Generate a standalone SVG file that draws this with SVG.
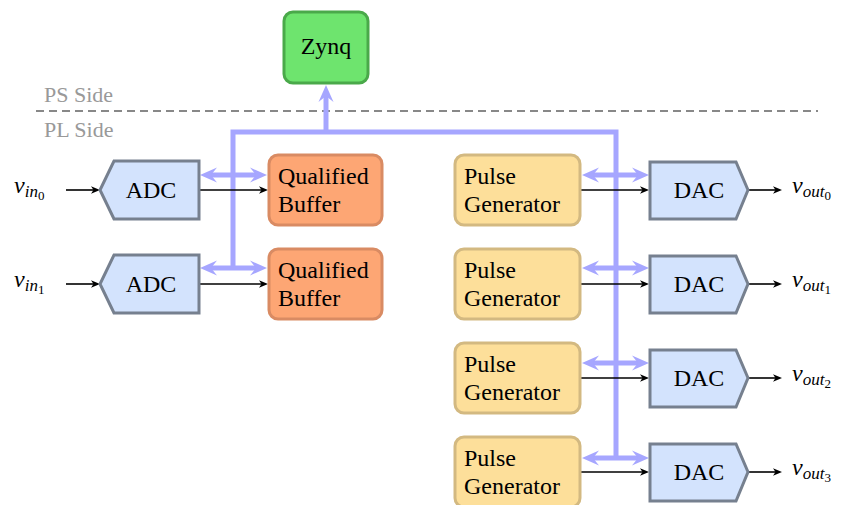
<svg xmlns="http://www.w3.org/2000/svg" width="842" height="505" viewBox="0 0 842 505">
<style>
.t{font-family:'Liberation Serif','DejaVu Serif',serif;font-size:24px;fill:#000}
.side{font-family:'Liberation Serif','DejaVu Serif',serif;font-size:22px;fill:#999}
.m{font-family:'Liberation Serif','DejaVu Serif',serif;font-style:italic;font-size:24px;fill:#000}
.s1{font-size:17px}
.s2{font-size:13px;font-style:normal}
.conv{fill:#d3e3fd;stroke:#76808f;stroke-width:3}
.buf{fill:#fda674;stroke:#d98b63;stroke-width:3}
.pg{fill:#fddf9a;stroke:#d3b981;stroke-width:3}
.zynq{fill:#6ee46e;stroke:#4aa94a;stroke-width:3}
.bus{fill:none;stroke:#a6a6ff;stroke-width:5}
.blk{fill:none;stroke:#000;stroke-width:1.6}
</style>
<defs>
<marker id="bh" viewBox="-20 -10 22 20" refX="-10" refY="0" markerUnits="userSpaceOnUse" markerWidth="22" markerHeight="20" orient="auto-start-reverse">
<path d="M0,0 L-17,-7.5 L-11,0 L-17,7.5 Z" fill="#a6a6ff"/>
</marker>
<marker id="kh" viewBox="-10 -5 12 10" refX="-3" refY="0" markerUnits="userSpaceOnUse" markerWidth="12" markerHeight="10" orient="auto">
<path d="M0,0 L-9,-3.8 L-6.5,0 L-9,3.8 Z" fill="#000"/>
</marker>
</defs>

<line x1="36" y1="111" x2="818" y2="111" stroke="#888" stroke-width="2" stroke-dasharray="8 5"/>
<text class="side" x="44" y="102" font-family="Liberation Serif, serif">PS Side</text>
<text class="side" x="44" y="137" font-family="Liberation Serif, serif">PL Side</text>

<g id="connectors">
<path class="bus" d="M233,268 V132 H616 V458"/>
<line class="bus" x1="326" y1="132" x2="326" y2="95" marker-end="url(#bh)"/>
<line class="bus" x1="210" y1="175" x2="257" y2="175" marker-start="url(#bh)" marker-end="url(#bh)"/>
<line class="bus" x1="210" y1="268" x2="257" y2="268" marker-start="url(#bh)" marker-end="url(#bh)"/>
<line class="bus" x1="592" y1="175" x2="639" y2="175" marker-start="url(#bh)" marker-end="url(#bh)"/>
<line class="bus" x1="592" y1="268" x2="639" y2="268" marker-start="url(#bh)" marker-end="url(#bh)"/>
<line class="bus" x1="592" y1="363" x2="639" y2="363" marker-start="url(#bh)" marker-end="url(#bh)"/>
<line class="bus" x1="592" y1="458" x2="639" y2="458" marker-start="url(#bh)" marker-end="url(#bh)"/>
<line class="blk" x1="66" y1="190" x2="97" y2="190" marker-end="url(#kh)"/>
<line class="blk" x1="66" y1="284" x2="97" y2="284" marker-end="url(#kh)"/>
<line class="blk" x1="200" y1="190" x2="265" y2="190" marker-end="url(#kh)"/>
<line class="blk" x1="200" y1="284" x2="265" y2="284" marker-end="url(#kh)"/>
<line class="blk" x1="581" y1="190" x2="646" y2="190" marker-end="url(#kh)"/>
<line class="blk" x1="581" y1="284" x2="646" y2="284" marker-end="url(#kh)"/>
<line class="blk" x1="581" y1="378" x2="646" y2="378" marker-end="url(#kh)"/>
<line class="blk" x1="581" y1="472" x2="646" y2="472" marker-end="url(#kh)"/>
<line class="blk" x1="749" y1="190" x2="779" y2="190" marker-end="url(#kh)"/>
<line class="blk" x1="749" y1="284" x2="779" y2="284" marker-end="url(#kh)"/>
<line class="blk" x1="749" y1="378" x2="779" y2="378" marker-end="url(#kh)"/>
<line class="blk" x1="749" y1="472" x2="779" y2="472" marker-end="url(#kh)"/>
</g>

<g id="zynq">
<rect class="zynq" x="284" y="12" width="84" height="71" rx="9"/>
<text class="t" x="326" y="54" text-anchor="middle">Zynq</text>
</g>

<g id="adc0">
<polygon class="conv" points="114,161 199,161 199,219 114,219 100,190"/>
<text class="t" x="151" y="198" text-anchor="middle">ADC</text>
</g>
<g id="adc1">
<polygon class="conv" points="114,255 199,255 199,313 114,313 100,284"/>
<text class="t" x="151" y="292" text-anchor="middle">ADC</text>
</g>

<g id="buffer0">
<rect class="buf" x="269" y="155" width="113" height="70" rx="9"/>
<text class="t" x="278" y="184">Qualified</text>
<text class="t" x="278" y="212">Buffer</text>
</g>
<g id="buffer1">
<rect class="buf" x="269" y="249" width="113" height="70" rx="9"/>
<text class="t" x="278" y="278">Qualified</text>
<text class="t" x="278" y="306">Buffer</text>
</g>

<g id="pg0">
<rect class="pg" x="455" y="155" width="125" height="70" rx="9"/>
<text class="t" x="464" y="184">Pulse</text>
<text class="t" x="464" y="212">Generator</text>
</g>
<g id="pg1">
<rect class="pg" x="455" y="249" width="125" height="70" rx="9"/>
<text class="t" x="464" y="278">Pulse</text>
<text class="t" x="464" y="306">Generator</text>
</g>
<g id="pg2">
<rect class="pg" x="455" y="343" width="125" height="70" rx="9"/>
<text class="t" x="464" y="372">Pulse</text>
<text class="t" x="464" y="400">Generator</text>
</g>
<g id="pg3">
<rect class="pg" x="455" y="437" width="125" height="70" rx="9"/>
<text class="t" x="464" y="466">Pulse</text>
<text class="t" x="464" y="494">Generator</text>
</g>

<g id="dac0">
<polygon class="conv" points="650,162 736,162 748,190 736,219 650,219"/>
<text class="t" x="699" y="198" text-anchor="middle">DAC</text>
</g>
<g id="dac1">
<polygon class="conv" points="650,256 736,256 748,284 736,313 650,313"/>
<text class="t" x="699" y="292" text-anchor="middle">DAC</text>
</g>
<g id="dac2">
<polygon class="conv" points="650,350 736,350 748,378 736,407 650,407"/>
<text class="t" x="699" y="386" text-anchor="middle">DAC</text>
</g>
<g id="dac3">
<polygon class="conv" points="650,444 736,444 748,472 736,501 650,501"/>
<text class="t" x="699" y="480" text-anchor="middle">DAC</text>
</g>

<g id="vin0"><text class="m" x="14" y="193">v<tspan class="s1" dy="4">in</tspan><tspan class="s2" dy="3">0</tspan></text></g>
<g id="vin1"><text class="m" x="14" y="287">v<tspan class="s1" dy="4">in</tspan><tspan class="s2" dy="3">1</tspan></text></g>
<g id="vout0"><text class="m" x="792" y="193">v<tspan class="s1" dy="4">out</tspan><tspan class="s2" dy="3">0</tspan></text></g>
<g id="vout1"><text class="m" x="792" y="287">v<tspan class="s1" dy="4">out</tspan><tspan class="s2" dy="3">1</tspan></text></g>
<g id="vout2"><text class="m" x="792" y="381">v<tspan class="s1" dy="4">out</tspan><tspan class="s2" dy="3">2</tspan></text></g>
<g id="vout3"><text class="m" x="792" y="475">v<tspan class="s1" dy="4">out</tspan><tspan class="s2" dy="3">3</tspan></text></g>
</svg>
